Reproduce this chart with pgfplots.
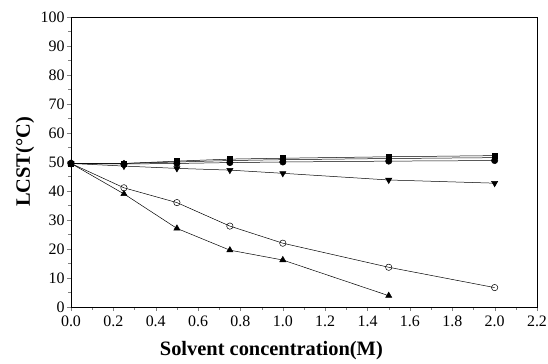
\documentclass[border=0pt]{standalone}
\usepackage{pgfplots}
\pgfplotsset{compat=1.18}
\usepackage{fontspec}
\setmainfont{Liberation Serif}
\begin{document}
\begin{tikzpicture}
\useasboundingbox (-71bp,-57bp) rectangle (477bp,307bp);
\begin{axis}[
  at={(0,0)}, anchor=south west,
  scale only axis, width=466bp, height=290bp,
  xmin=0, xmax=2.2, ymin=0, ymax=100,
  xtick={0,0.2,...,2.2}, ytick={0,10,...,100},
  minor x tick num=1, minor y tick num=1,
  tick align=outside, tick pos=left,
  major tick length=4bp, minor tick length=2.5bp,
  /pgf/number format/assume math mode=true,
  ticklabel style={font=\fontsize{16}{16}\selectfont},
  xticklabel style={/pgf/number format/fixed, /pgf/number format/fixed zerofill, /pgf/number format/precision=1, yshift=-1bp},
  yticklabel style={xshift=1bp},
  xlabel={Solvent concentration(M)},
  ylabel={LCST(\textdegree C)},
  xlabel style={font=\fontsize{20.5}{20.5}\selectfont\bfseries, at={(rel axis cs:0.43,0)}, anchor=center, yshift=-44bp},
  ylabel style={font=\fontsize{20.5}{20.5}\selectfont\bfseries, at={(rel axis cs:0,0.5)}, anchor=center, rotate=0, yshift=46bp},
  every axis plot/.append style={black, line width=0.5pt, mark size=3.2pt},
]
\addplot[mark=o, mark options={fill=white}] coordinates {(0,49.5)(0.25,41.1)(0.5,36.0)(0.75,27.9)(1.0,22.0)(1.5,13.7)(2.0,6.7)};
\addplot[mark=triangle*, mark size=3.6pt] coordinates {(0,49.5)(0.25,39.0)(0.5,27.1)(0.75,19.6)(1.0,16.2)(1.5,3.9)};
\addplot[mark=triangle*, mark size=3.6pt, mark options={rotate=180}] coordinates {(0,49.5)(0.25,48.6)(0.5,47.8)(0.75,47.2)(1.0,46.1)(1.5,43.8)(2.0,42.7)};
\addplot[mark=*] coordinates {(0,49.5)(0.25,49.3)(0.5,49.5)(0.75,49.8)(1.0,50.0)(1.5,50.3)(2.0,50.5)};
\addplot[mark=diamond*] coordinates {(0,49.5)(0.25,49.5)(0.5,50.0)(0.75,50.5)(1.0,50.8)(1.5,51.2)(2.0,51.5)};
\addplot[mark=square*, mark size=2.6pt] coordinates {(0,49.5)(0.25,49.5)(0.5,50.3)(0.75,51.0)(1.0,51.3)(1.5,51.8)(2.0,52.2)};
\addplot[mark=o, mark options={fill=white}] coordinates {(0,49.5)};
\end{axis}
\end{tikzpicture}
\end{document}
